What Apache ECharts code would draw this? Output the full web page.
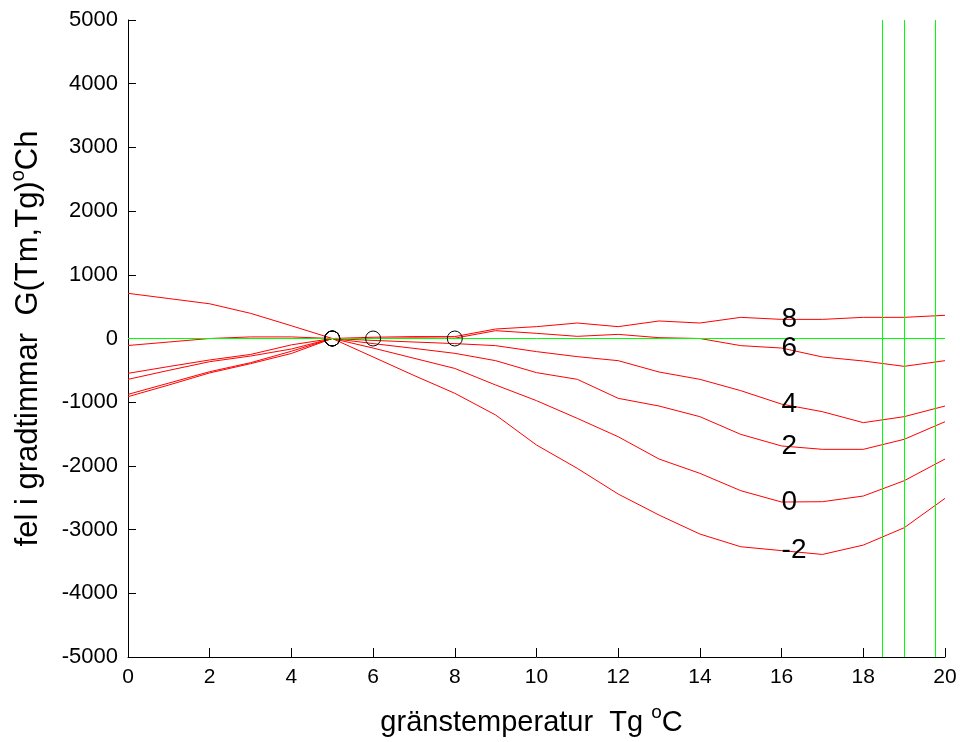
<!DOCTYPE html>
<html>
<head>
<meta charset="utf-8">
<script src="https://cdn.jsdelivr.net/npm/echarts@6/dist/echarts.min.js"></script>
<style>
  html, body { margin: 0; padding: 0; background: #fff; }
  #chart { width: 960px; height: 742px; }
</style>
</head>
<body>
<div id="chart"></div>
<script>
// Boundary temperature Tg (°C), one sample per degree
var tg = [0, 1, 2, 3, 4, 5, 6, 7, 8, 9, 10, 11, 12, 13, 14, 15, 16, 17, 18, 19, 20];

// Error in degree-hours G(Tm,Tg) for each mean temperature Tm
var tmNames = ['8', '6', '4', '2', '0', '-2'];
var errTm8  = [-110, -55, 0, 25, 25, 0, 20, 30, 30, 149, 186, 243, 186, 275, 243, 332, 300, 300, 332, 332, 364];
var errTm6  = [-547, -440, -337, -250, -100, 0, 0, 10, 5, 123, 81, 34, 65, 13, 0, -112, -150, -290, -353, -437, -348];
var errTm4  = [-641, -500, -364, -275, -165, 0, -30, -55, -80, -112, -206, -285, -348, -526, -641, -819, -1030, -1149, -1321, -1227, -1060];
var errTm2  = [-877, -700, -521, -380, -200, 0, -80, -155, -233, -348, -536, -641, -939, -1060, -1227, -1505, -1687, -1740, -1740, -1583, -1306];
var errTm0  = [-913, -730, -540, -395, -235, 0, -150, -310, -470, -730, -976, -1254, -1542, -1892, -2117, -2389, -2567, -2562, -2473, -2233, -1892];
var errTmM2 = [709, 627, 545, 395, 200, 0, -290, -580, -860, -1201, -1672, -2039, -2442, -2772, -3070, -3269, -3330, -3390, -3243, -2971, -2510];

// Zero-crossing markers (one per curve) and reference temperatures
var zeroCrossTg = [5, 5, 5, 5, 6, 8];
var refTg = [18.47, 19.01, 19.76];
var labelTg = 16;

// Axis ticks
var xTicks = { min: 0, max: 20, interval: 2 };
var yTicks = { min: -5000, max: 5000, interval: 1000 };

var curves = [errTm8, errTm6, errTm4, errTm2, errTm0, errTmM2];
var FONT = 'Arial, "Liberation Sans", Helvetica, sans-serif';

var series = curves.map(function (vals, i) {
  return {
    name: 'Tm ' + tmNames[i],
    type: 'line',
    data: tg.map(function (x, k) { return [x, vals[k]]; }),
    showSymbol: false,
    symbol: 'none',
    lineStyle: { color: '#ff0000', width: 1 },
    silent: true,
    z: 3
  };
});

// Curve labels placed on each curve at Tg = 16
series.push({
  name: 'labels',
  type: 'scatter',
  symbolSize: 0,
  itemStyle: { opacity: 1 },
  data: curves.map(function (vals, i) {
    var k = tg.indexOf(labelTg);
    return { value: [labelTg, vals[k]], name: tmNames[i] };
  }),
  label: {
    show: true,
    position: 'right',
    distance: 0,
    align: 'left',
    verticalAlign: 'middle',
    formatter: function (p) { return p.name; },
    fontFamily: FONT,
    fontSize: 28,
    color: '#000',
    opacity: 1,
    textBorderWidth: 0
  },
  silent: true,
  z: 6
});

// Zero line, reference temperature lines and zero-crossing circles
series.push({
  name: 'markers',
  type: 'scatter',
  data: zeroCrossTg.map(function (x) { return [x, 0]; }),
  symbol: 'circle',
  symbolSize: 15,
  itemStyle: { color: 'rgba(0,0,0,0)', borderColor: '#000', borderWidth: 1, opacity: 1 },
  silent: true,
  z: 5,
  markLine: {
    silent: true,
    symbol: ['none', 'none'],
    label: { show: false },
    lineStyle: { color: '#00ff00', width: 1, type: 'solid', opacity: 1 },
    data: [{ yAxis: 0 }].concat(refTg.map(function (v) { return { xAxis: v }; }))
  }
});

var titleRich = {
  t: { fontFamily: FONT, fontSize: 29, color: '#000', lineHeight: 34, verticalAlign: 'bottom' },
  s: { fontFamily: FONT, fontSize: 19, color: '#000', lineHeight: 19, verticalAlign: 'top' }
};

var chart = echarts.init(document.getElementById('chart'), null, { renderer: 'canvas' });
chart.setOption({
  backgroundColor: '#fff',
  animation: false,
  grid: { left: 127, right: 15, top: 20, bottom: 85 },
  xAxis: {
    type: 'value',
    min: xTicks.min, max: xTicks.max, interval: xTicks.interval,
    name: '{t|gränstemperatur  Tg }{s|o}{t|C}',
    nameLocation: 'middle',
    nameGap: 46,
    nameTextStyle: { rich: titleRich, padding: [0, 10, 0, 0] },
    axisLine: { show: true, onZero: false, lineStyle: { color: '#000', width: 1 } },
    axisTick: { show: true, inside: true, length: 9, lineStyle: { color: '#000' } },
    axisLabel: { fontFamily: FONT, fontSize: 21, color: '#000', margin: 10 },
    splitLine: { show: false }
  },
  yAxis: {
    type: 'value',
    min: yTicks.min, max: yTicks.max, interval: yTicks.interval,
    name: '{t|fel i gradtimmar  G(Tm,Tg)}{s|o}{t|Ch}',
    nameLocation: 'middle',
    nameGap: 84,
    nameTextStyle: { rich: {
      t: { fontFamily: FONT, fontSize: 31, color: '#000', lineHeight: 36, verticalAlign: 'bottom' },
      s: { fontFamily: FONT, fontSize: 20, color: '#000', lineHeight: 20, verticalAlign: 'top' }
    } },
    axisLine: { show: true, onZero: false, lineStyle: { color: '#000', width: 1 } },
    axisTick: { show: true, inside: true, length: 8, lineStyle: { color: '#000' } },
    axisLabel: {
      fontFamily: FONT, fontSize: 22, color: '#000', margin: 10,
      formatter: function (v) { return String(v); }
    },
    splitLine: { show: false }
  },
  series: series
});
</script>
</body>
</html>
